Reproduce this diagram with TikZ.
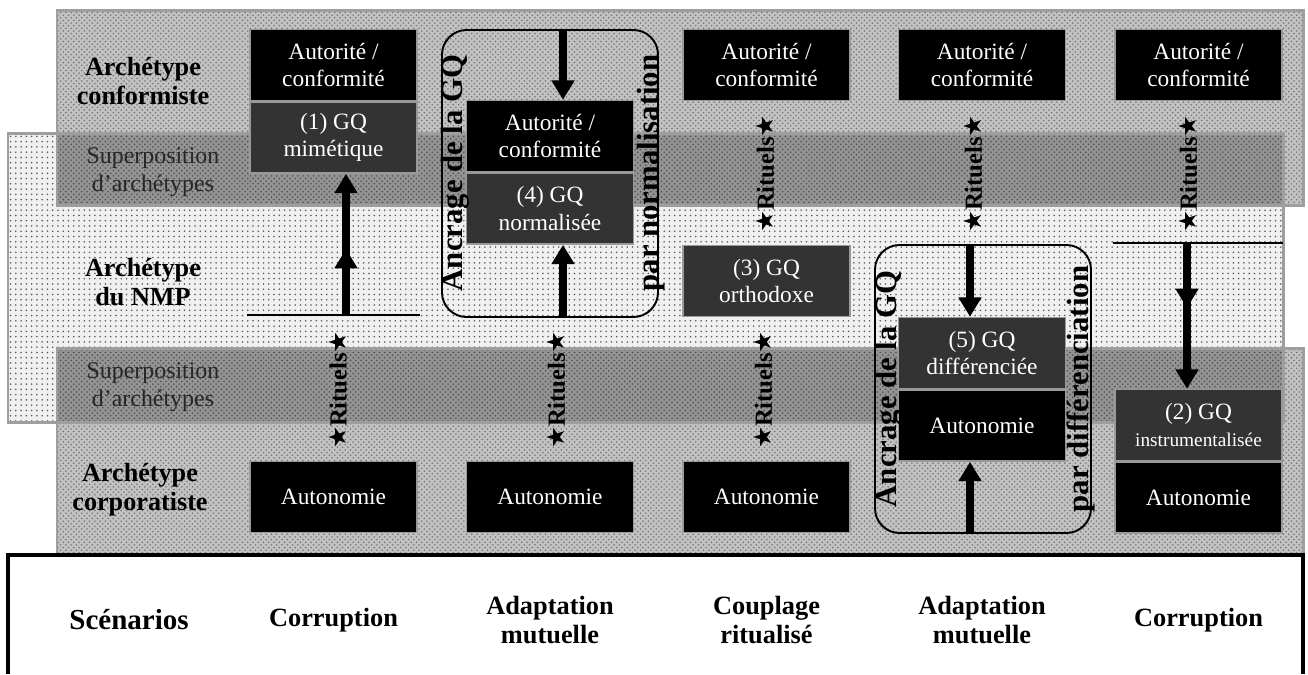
\documentclass[tikz,border=0pt]{standalone}
\usepackage{fontspec}
\setmainfont{Liberation Serif}
\newfontfamily\symfont{DejaVu Sans}
\usetikzlibrary{positioning,arrows.meta,patterns}

\newcommand{\ritstar}{{\symfont\fontsize{14}{14}\selectfont ★}}

\begin{document}
\begin{tikzpicture}[x=0.02cm,y=-0.02cm,
  bandborder/.style={draw=black!38,line width=1.7pt},
  boxa/.style={draw=black!40,line width=0.9pt,fill=black,text=white,align=center,
    minimum width=3.34cm,minimum height=1.42cm,inner sep=0pt,
    font=\fontsize{13.3}{15.5}\selectfont},
  boxg/.style={boxa,fill=black!80},
  rowlabel/.style={align=center,font=\fontsize{14.9}{16.5}\selectfont\bfseries},
  suplabel/.style={align=center,text=black!85,font=\fontsize{13.6}{16}\selectfont},
  scenario/.style={align=center,font=\fontsize{15}{17}\selectfont\bfseries},
  rituel/.style={rotate=90,inner sep=0pt,font=\fontsize{14}{15}\selectfont\bfseries},
  ancrage/.style={rotate=90,inner sep=0pt,font=\fontsize{17.5}{20}\selectfont\bfseries},
  anchorbox/.style={draw,line width=1.1pt,rounded corners=14pt},
  bigarrow/.style={line width=4.5pt,-{Triangle[width=12.5pt,length=11pt]}}]
\useasboundingbox (0,0) rectangle (1308,674);

% archetype layers
\fill[black!24] (57,10) rectangle (1303,205);
\fill[pattern=crosshatch dots,pattern color=black!55] (57,10) rectangle (1303,205);
\fill[black!24] (57,348) rectangle (1303,555);
\fill[pattern=crosshatch dots,pattern color=black!55] (57,348) rectangle (1303,555);
\fill[black!6] (8,133) rectangle (1283,422);
\fill[pattern=dots,pattern color=black!65] (8,133) rectangle (1283,422);
% superposition bands
\fill[black!42] (57,133) rectangle (1283,205);
\fill[pattern=crosshatch dots,pattern color=black!70] (57,133) rectangle (1283,205);
\fill[black!42] (57,348) rectangle (1283,422);
\fill[pattern=crosshatch dots,pattern color=black!70] (57,348) rectangle (1283,422);
\draw[bandborder] (57,10) rectangle (1303,205);
\draw[bandborder] (8,133) rectangle (1283,422);
\draw[bandborder] (57,348) rectangle (1303,555);

% row labels
\node[rowlabel] (conf) at (143,81) {Archétype\\conformiste};
\node[suplabel] (sup1) at (153,172) {Superposition\\d’archétypes};
\node[rowlabel] (nmp) at (143,282) {Archétype\\du NMP};
\node[suplabel] (sup2) at (153,387) {Superposition\\d’archétypes};
\node[rowlabel] (corp) at (140,490) {Archétype\\corporatiste};

% anchoring frames
\draw[anchorbox] (442,30) rectangle (658,317);
\draw[anchorbox] (875,245) rectangle (1091,533);

% boxes
\node[boxa] (aut1) at (333.5,65) {Autorité /\\conformité};
\node[boxg,below=0pt of aut1] (gq1) {(1) GQ\\mimétique};
\node[boxa] (auto1) at (333.5,497) {Autonomie};

\node[boxa] (aut2) at (550,136) {Autorité /\\conformité};
\node[boxg,below=0pt of aut2] (gq4) {(4) GQ\\normalisée};
\node[boxa] (auto2) at (550,497) {Autonomie};

\node[boxa] (aut3) at (766.5,65) {Autorité /\\conformité};
\node[boxg] (gq3) at (766.5,281) {(3) GQ\\orthodoxe};
\node[boxa] (auto3) at (766.5,497) {Autonomie};

\node[boxa] (aut4) at (982,65) {Autorité /\\conformité};
\node[boxg] (gq5) at (982,353) {(5) GQ\\différenciée};
\node[boxa,below=0pt of gq5] (auto4) {Autonomie};

\node[boxa] (aut5) at (1198.5,65) {Autorité /\\conformité};
\node[boxg] (gq2) at (1198.5,425) {(2) GQ\\{\fontsize{11}{13}\selectfont instrumentalisée}};
\node[boxa,below=0pt of gq2] (auto5) {Autonomie};

% rituals
\node[rituel] (rit1) at (338,390) {\ritstar Rituels\ritstar};
\node[rituel] (rit2) at (556,390) {\ritstar Rituels\ritstar};
\node[rituel] (rit3) at (763,390) {\ritstar Rituels\ritstar};
\node[rituel] (rit3t) at (765,174) {\ritstar Rituels\ritstar};
\node[rituel] (rit4t) at (973,174) {\ritstar Rituels\ritstar};
\node[rituel] (rit5t) at (1188,174) {\ritstar Rituels\ritstar};

% arrows
\coordinate (b1) at (346,315);
\draw[line width=0.9pt] (247,315) -- (420,315);
\draw[bigarrow] (b1) -- (346,249);
\draw[bigarrow] (b1) -- (b1 |- gq1.south);

\coordinate (a2t) at (563,30);
\coordinate (a2b) at (563,317);
\draw[bigarrow] (a2t) -- (a2t |- aut2.north);
\draw[bigarrow] (a2b) -- (a2b |- gq4.south);

\coordinate (a4t) at (970,245);
\coordinate (a4b) at (970,533);
\draw[bigarrow] (a4t) -- (a4t |- gq5.north);
\draw[bigarrow] (a4b) -- (a4b |- auto4.south);

\coordinate (t5) at (1187,243);
\draw[line width=0.9pt] (1113,243) -- (1283,243);
\draw[bigarrow] (t5) -- (1187,308);
\draw[bigarrow] (t5) -- (t5 |- gq2.north);

% anchoring labels
\node[ancrage] (anc2) at (455,173) {Ancrage de la GQ};
\node[ancrage] (par2) at (651,173) {par normalisation};
\node[ancrage] (anc4) at (889,389) {Ancrage de la GQ};
\node[ancrage] (par4) at (1081,389) {par différenciation};

% scenarios
\draw[line width=2.3pt] (8,674) -- (8,555) -- (1303,555) -- (1303,674);
\node[scenario,font=\fontsize{16.5}{18}\selectfont\bfseries] (scen) at (129,620) {Scénarios};
\node[scenario] (sc1) at (333.5,620) {Corruption};
\node[scenario] (sc2) at (550,620) {Adaptation\\mutuelle};
\node[scenario] (sc3) at (766.5,620) {Couplage\\ritualisé};
\node[scenario] (sc4) at (982,620) {Adaptation\\mutuelle};
\node[scenario] (sc5) at (1198.5,620) {Corruption};
\end{tikzpicture}
\end{document}
